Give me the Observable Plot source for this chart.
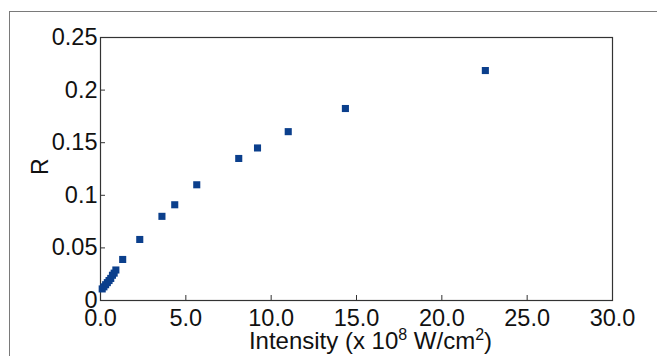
<!DOCTYPE html>
<html>
<head>
<meta charset="utf-8">
<script src="https://cdn.jsdelivr.net/npm/d3@7"></script>
<script src="https://cdn.jsdelivr.net/npm/@observablehq/plot@0.6"></script>
<style>
  html, body { margin: 0; padding: 0; background: #fff; }
  #wrap { position: relative; width: 657px; height: 356px; overflow: hidden; }
  #border { position: absolute; left: 9px; top: 11px; right: -5px; bottom: -5px; border-top: 1px solid #7a7a7a; border-left: 1px solid #7a7a7a; }
  #chart { position: absolute; left: 0; top: 0; }
</style>
</head>
<body>
<div id="wrap"><div id="border"></div><div id="chart"></div></div>
<script>
// Intensity (x 10^8 W/cm^2)
const intensity = [0.1, 0.2, 0.3, 0.4, 0.5, 0.6, 0.7, 0.8, 0.9, 1.3, 2.3, 3.6, 4.35, 5.64, 8.1, 9.2, 11.0, 14.35, 22.55];
// R
const reflect = [0.011, 0.013, 0.015, 0.017, 0.019, 0.021, 0.024, 0.026, 0.029, 0.039, 0.058, 0.080, 0.091, 0.110, 0.135, 0.145, 0.1605, 0.1825, 0.2186];
const xTicks = [0, 5, 10, 15, 20, 25, 30];
const yTicks = [0, 0.05, 0.1, 0.15, 0.2, 0.25];
const xLabel = "Intensity (x 10|8| W/cm|2|)";
const yLabel = "R";

const data = intensity.map((x, i) => ({x, y: reflect[i]}));

const chart = Plot.plot({
  width: 657,
  height: 356,
  marginLeft: 100,
  marginRight: 45,
  marginTop: 37,
  marginBottom: 56,
  style: {fontFamily: "'Liberation Sans', Arial, sans-serif", background: "transparent", color: "#111"},
  x: {domain: [0, 30]},
  y: {domain: [0, 0.25]},
  marks: [
    Plot.axisX({ticks: xTicks, tickFormat: d3.format(".1f"), tickSize: 0, tickPadding: 9, fontSize: 23.5, label: null}),
    Plot.axisX({ticks: xTicks, tickFormat: () => "", tickSize: -5, label: null, stroke: "#333"}),
    Plot.axisY({ticks: yTicks, tickFormat: d => String(d), tickSize: 0, tickPadding: 3, fontSize: 23.5, label: null}),
    Plot.axisY({ticks: yTicks, tickFormat: () => "", tickSize: -5, label: null, stroke: "#333"}),
    Plot.frame({stroke: "#333", strokeWidth: 1.2}),
    Plot.dot(data, {x: "x", y: "y", symbol: "square", r: 4, fill: "#0b3f8c", stroke: null}),
    Plot.text([yLabel], {frameAnchor: "left", dx: -60, dy: 6, rotate: -90, fontSize: 23, className: "ylab"}),
    Plot.text([xLabel], {frameAnchor: "bottom", dx: 14, dy: 41, lineAnchor: "middle", fontSize: 24, className: "xlab"})
  ]
});
document.getElementById("chart").appendChild(chart);

// render superscripts in the x label
const t = chart.querySelector(".xlab text");
if (t) {
  const parts = t.textContent.split("|");
  t.textContent = "";
  const ns = "http://www.w3.org/2000/svg";
  parts.forEach((p, i) => {
    const ts = document.createElementNS(ns, "tspan");
    ts.textContent = p;
    if (i % 2 === 1) { ts.setAttribute("dy", "-9"); ts.setAttribute("font-size", "16"); }
    else if (i > 0) { ts.setAttribute("dy", "9"); }
    t.appendChild(ts);
  });
}
</script>
</body>
</html>
